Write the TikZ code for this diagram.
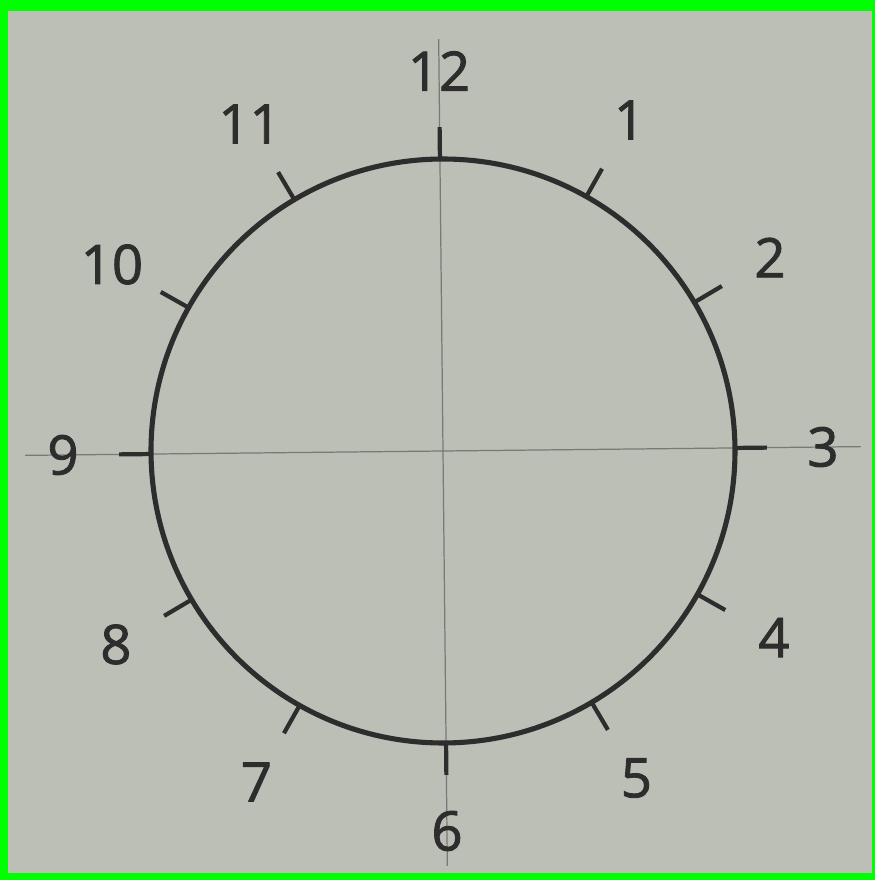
\documentclass[tikz,border=0pt]{standalone}
\usepackage{fontspec}
\setmainfont{Open Sans}
\definecolor{paper}{RGB}{188,191,182}
\definecolor{frame}{RGB}{0,255,0}
\definecolor{ink}{RGB}{45,45,45}
\definecolor{axisgray}{RGB}{120,122,116}
\tikzset{
  hourlabel/.style={text=ink, font=\fontsize{31}{36}\selectfont\addfontfeature{FakeBold=1.6}, inner sep=0pt},
  hourtick/.style={ink, line width=2.4pt},
  axisline/.style={axisgray, line width=0.7pt}
}
\begin{document}
\begin{tikzpicture}[x=0.02cm, y=0.02cm]
    % Rahmen und Papier
    \fill[frame] (0,0) rectangle (875,880);
    \fill[paper] (8,7) rectangle (872,869);
    \useasboundingbox (0,0) rectangle (875,880);

    \begin{scope}[shift={(443,429)}, rotate=0.6]
    % Achsen
    \coordinate (top) at (0,412);
    \coordinate (bottom) at (0,-415);
    \coordinate (left) at (-418,0);
    \coordinate (right) at (418,0);
    \draw[axisline] (top) -- (bottom);
    \draw[axisline] (left) -- (right);

    % Zifferblatt
    \draw[ink, line width=2.9pt] (0,0) circle (292);

    % Striche und Ziffern
    \foreach \h in {1,...,12} {
        \coordinate (in\h) at ({90-30*\h}:292);
        \coordinate (out\h) at ({90-30*\h}:324);
        \draw[hourtick] (in\h) -- (out\h);
        \node[hourlabel] (h\h) at ({90-30*\h}:380) {\h};
    }
    \end{scope}
\end{tikzpicture}
\end{document}
